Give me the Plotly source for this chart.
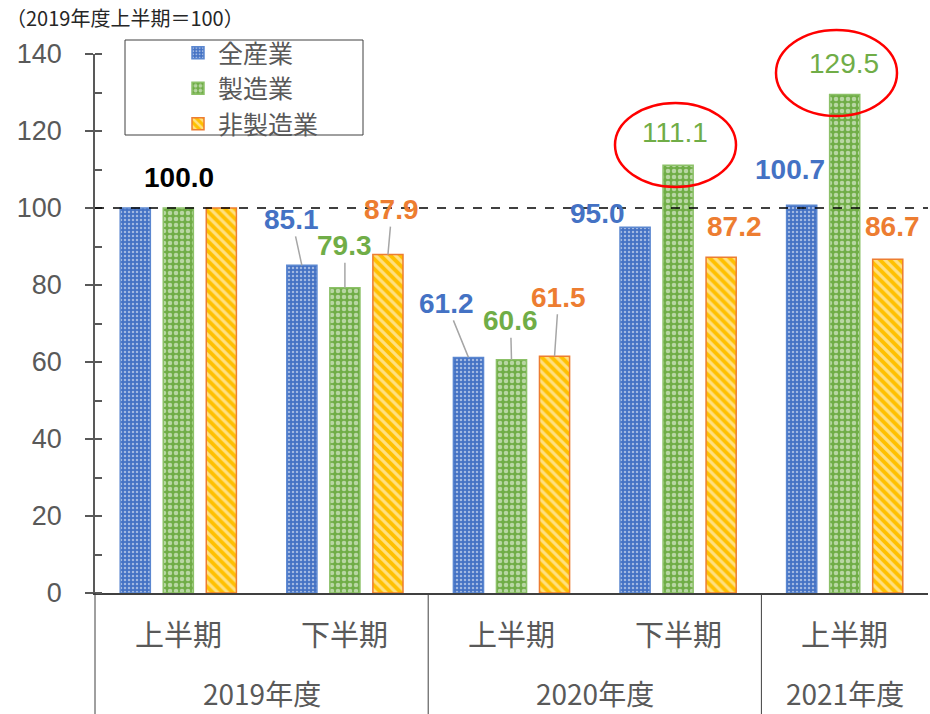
import plotly.graph_objects as go

# ---- data ----
years = ["2019年度", "2019年度", "2020年度", "2020年度", "2021年度"]
halves = ["上半期", "下半期", "上半期", "下半期", "上半期"]
series_names = ["全産業", "製造業", "非製造業"]
all_industry = [100.0, 85.1, 61.2, 95.0, 100.7]
manufacturing = [100.0, 79.3, 60.6, 111.1, 129.5]
non_manufacturing = [100.0, 87.9, 61.5, 87.2, 86.7]
y_ticks = [0, 20, 40, 60, 80, 100, 120, 140]

cats = [y + h for y, h in zip(years, halves)]
values = [all_industry, manufacturing, non_manufacturing]

# ---- styles ----
W, H = 930, 714
ML, MR, MT, MB = 95, 2, 54, 121
PW, PH = W - ML - MR, H - MT - MB
BLUE, GREEN, ORANGE, YELLOW = "#4472C4", "#70AD47", "#ED7D31", "#FFC000"
GRAY = "#595959"
NUM_FONT = "Liberation Sans Narrow, Arial Narrow, Liberation Sans, Arial, sans-serif"
JP_FONT = "Noto Sans CJK JP, sans-serif"

patterns = [
    dict(shape=".", fgcolor="white", bgcolor=BLUE, size=4, solidity=0.3),
    dict(shape=".", fgcolor="white", bgcolor=GREEN, size=6, solidity=0.45),
    dict(shape="\\", fgcolor="white", bgcolor=YELLOW, size=7, solidity=0.45),
]
line_colors = ["#5B87D0", "#8CC168", ORANGE]
label_colors = [BLUE, GREEN, ORANGE]

fig = go.Figure()
for name, vals, pat, lc in zip(series_names, values, patterns, line_colors):
    fig.add_trace(go.Bar(
        x=cats, y=vals, name=name,
        marker=dict(color=pat["bgcolor"], pattern=pat, line=dict(color=lc, width=1.5)),
        hoverinfo="skip",
    ))

BARGAP = 0.225
slot = (1 - BARGAP) / 3
offsets = [-slot, 0, slot]

# label offsets in pixels (text center relative to bar top), and whether a leader line is drawn
label_offsets = {
    (0, 1): (1, -31, False, "black", "bold"),
    (1, 0): (-10, -46, True, None, "bold"),
    (1, 1): (0, -42, True, None, "bold"),
    (1, 2): (4, -45, True, None, "bold"),
    (2, 0): (-22, -54, True, None, "bold"),
    (2, 1): (-1, -39, True, None, "bold"),
    (2, 2): (4, -59, True, None, "bold"),
    (3, 0): (-38, -14, False, None, "bold"),
    (3, 1): (-3, -33, False, None, "normal"),
    (3, 2): (13, -31, False, None, "bold"),
    (4, 0): (-12, -36, False, None, "bold"),
    (4, 1): (-1, -31, False, None, "normal"),
    (4, 2): (5, -33, False, None, "bold"),
}

annotations = []
for (ci, si), (ax, ay, line, col, wt) in label_offsets.items():
    v = values[si][ci]
    annotations.append(dict(
        x=ci + offsets[si], y=v, xref="x", yref="y",
        text=f"{v:.1f}", showarrow=True, ax=ax, ay=ay,
        arrowhead=0, arrowwidth=1.5, standoff=0, startstandoff=0,
        arrowcolor="#A6A6A6" if line else "rgba(0,0,0,0)",
        font=dict(family=NUM_FONT, size=28, color=col or label_colors[si], weight=wt),
    ))

# x-axis category labels
for c, h in zip(cats, halves):
    annotations.append(dict(x=c, y=0, xref="x", yref="paper", text=h, showarrow=False,
                            xanchor="center", yanchor="middle", yshift=-40,
                            font=dict(family=JP_FONT, size=29, color=GRAY)))

# year groups
groups = []
for i, y in enumerate(years):
    if groups and groups[-1][0] == y:
        groups[-1][2] = i
    else:
        groups.append([y, i, i])
n = len(cats)
shapes = []
for y, i0, i1 in groups:
    annotations.append(dict(x=(i0 + i1 + 1) / 2 / n, y=0, xref="paper", yref="paper", text=y,
                            showarrow=False, xanchor="center", yanchor="middle", yshift=-100,
                            font=dict(family=JP_FONT, size=28, color=GRAY)))
    shapes.append(dict(type="line", xref="paper", yref="paper", x0=i0 / n, x1=i0 / n,
                       y0=0, y1=-MB / PH, line=dict(color="#404040", width=1)))

# title note
annotations.append(dict(x=-(ML - 4) / PW, y=1 + (MT - 18) / PH, xref="paper", yref="paper",
                        xanchor="left", yanchor="middle", text="（2019年度上半期＝100）",
                        showarrow=False, font=dict(family=JP_FONT, size=20, color="#262626")))

# dashed reference line at 100
shapes.append(dict(type="line", xref="paper", yref="y", x0=0, x1=1, y0=100, y1=100,
                   line=dict(color="black", width=1.5, dash="dash")))

def px2paper(x, y):
    return (x - ML) / PW, (H - MB - y) / PH

# red ellipses
for (x0, y0, x1, y1) in [(615, 187, 736, 103), (776, 116, 897, 30)]:
    a, b = px2paper(x0, y0)
    c, d = px2paper(x1, y1)
    shapes.append(dict(type="circle", xref="paper", yref="paper", x0=a, y0=b, x1=c, y1=d,
                       line=dict(color="#FF0000", width=2.5)))

# legend box
a, b = px2paper(125, 135)
c, d = px2paper(363, 40)
shapes.append(dict(type="rect", xref="paper", yref="paper", x0=a, y0=b, x1=c, y1=d,
                   line=dict(color="#404040", width=1), fillcolor="white", layer="below"))

lx, ly = px2paper(178, 30)

fig.update_layout(
    width=W, height=H,
    margin=dict(l=ML, r=MR, t=MT, b=MB),
    plot_bgcolor="white", paper_bgcolor="white",
    barmode="group", bargap=BARGAP, bargroupgap=0.3,
    showlegend=True,
    legend=dict(x=lx, y=ly, xanchor="left", yanchor="top", bgcolor="rgba(0,0,0,0)",
                font=dict(family=JP_FONT, size=25, color=GRAY), tracegroupgap=0),
    xaxis=dict(showticklabels=False, ticks="", showline=True, linecolor="#404040", linewidth=1.5,
               showgrid=False, zeroline=False),
    yaxis=dict(range=[0, 140], tickvals=y_ticks, ticks="outside", ticklen=8, tickwidth=1.5,
               tickcolor=GRAY, showline=True, linecolor=GRAY, linewidth=1.5, showgrid=False,
               zeroline=False, ticklabelstandoff=18,
               tickfont=dict(family=NUM_FONT, size=27, color=GRAY),
               minor=dict(dtick=10, ticks="inside", ticklen=7, tickwidth=1.5, tickcolor=GRAY)),
    yaxis2=dict(range=[0, 140], overlaying="y", side="left", tickvals=y_ticks, ticks="inside",
                ticklen=7, tickwidth=1.5, tickcolor=GRAY, showticklabels=False, showline=False,
                showgrid=False, zeroline=False),
    annotations=annotations, shapes=shapes,
)

fig.write_html("out.html", config={"displayModeBar": False},
               post_script="document.body.style.margin='0';")
